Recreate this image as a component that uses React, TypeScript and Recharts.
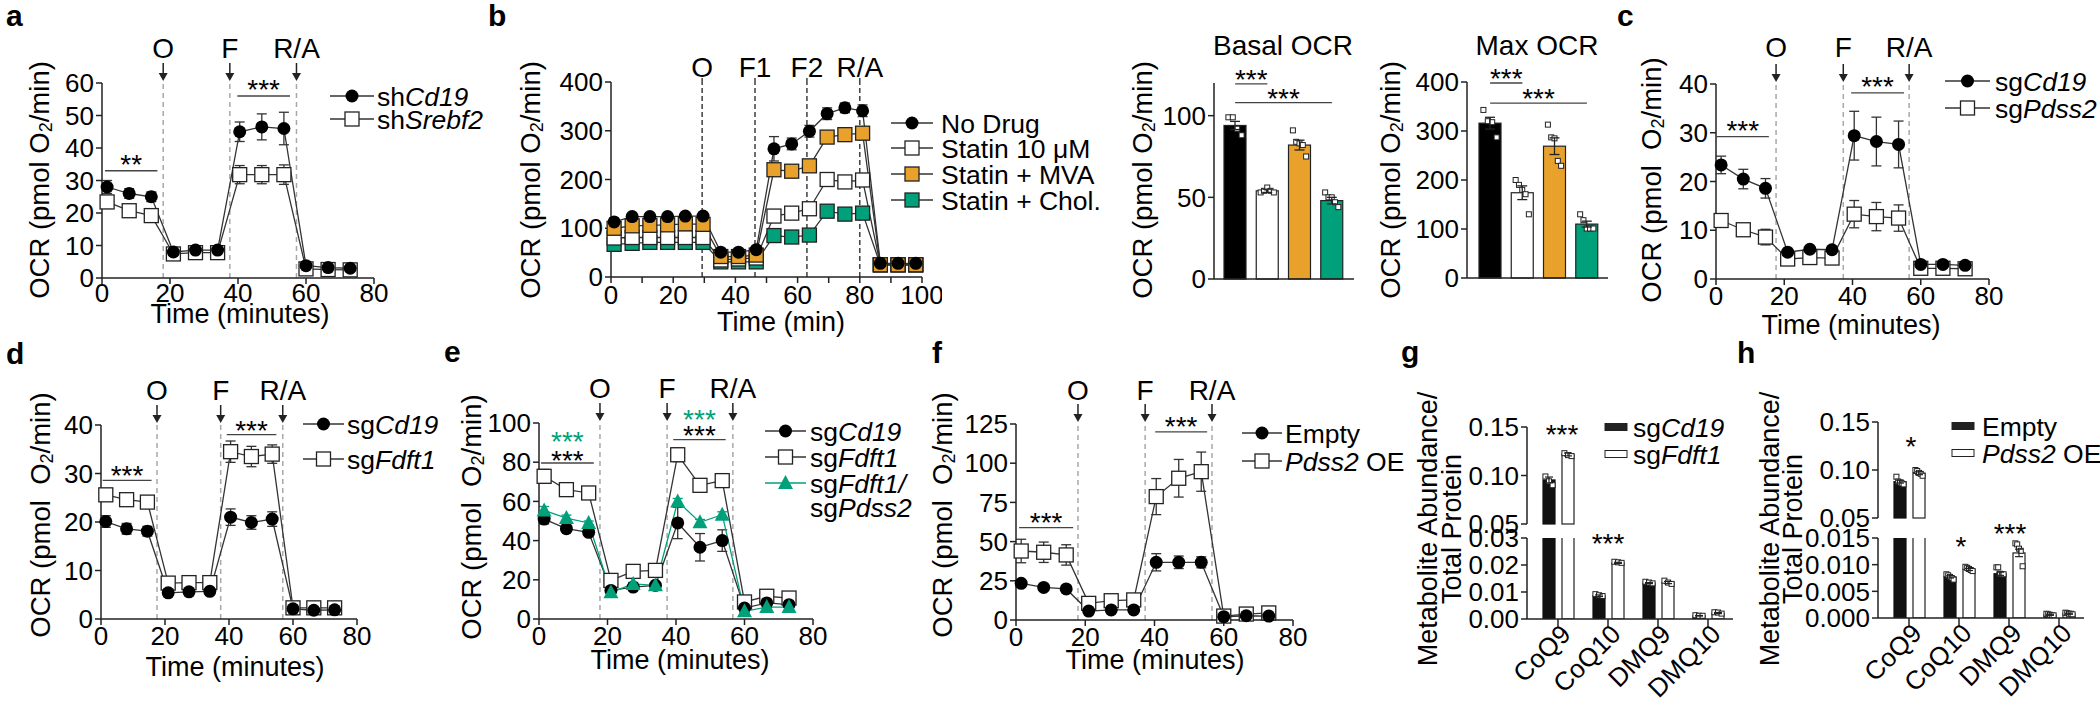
import React from 'react'
import { LineChart, Line, BarChart, Bar, Cell, XAxis, YAxis, ErrorBar, ReferenceLine } from 'recharts'

const FONT = '"Liberation Sans", Arial, Helvetica, sans-serif'
const AXIS = '#222'
const DASH_GRAY = '#a8a8a8'
const ORANGE = '#E8A22B'
const GREEN = '#00A07A'

// Seahorse read times (minutes)
const seaTime = [1.5, 8, 14.5, 21, 27.5, 34, 40.5, 47, 53.5, 60, 66.5, 73]
const bTime = [1, 6.8, 12.5, 18.2, 23.9, 29.6, 35.3, 41, 46.7, 52.4, 58.1, 63.8, 69.5, 75.2, 80.9, 86.6, 92.3, 98]

// a
const aCd19 = [28, 26, 25, 8, 8.6, 8.6, 45, 46.5, 46, 3.8, 3.2, 3]
const aCd19Err = [2, 1.5, 1.5, 1, 0.7, 0.7, 3, 4, 5, 0.5, 0.5, 0.5]
const aSrebf2 = [23.4, 20.7, 19.2, 7.4, 7.8, 7.8, 31.8, 31.8, 31.8, 2.8, 2.6, 2.5]
const aSrebf2Err = [2, 0.7, 0.7, 0.5, 0.5, 0.5, 2.8, 2.8, 3, 0.4, 0.4, 0.4]

// b (time course)
const bNoDrug = [113, 124, 124, 124, 125, 125, 51, 51, 56, 263, 273, 299, 335, 347, 341, 28, 28, 28]
const bNoDrugErr = [8, 5, 4, 4, 4, 4, 3, 3, 4, 25, 12, 12, 12, 10, 12, 3, 3, 3]
const bStatin = [80, 81, 81, 81, 81, 81, 35, 37, 39, 125, 131, 140, 200, 195, 199, 25, 25, 25]
const bStatinErr = [3, 3, 3, 3, 3, 3, 2, 2, 2, 8, 6, 6, 12, 10, 10, 2, 2, 2]
const bMVA = [100, 105, 106, 107, 109, 108, 42, 42, 45, 220, 217, 228, 287, 292, 295, 25, 25, 25]
const bMVAErr = [5, 5, 4, 4, 4, 4, 3, 3, 3, 6, 5, 8, 12, 12, 12, 2, 2, 2]
const bChol = [67, 69, 71, 71, 71, 71, 31, 31, 31, 85, 82, 86, 135, 129, 131, 25, 25, 25]
const bCholErr = [3, 3, 3, 3, 3, 3, 2, 2, 2, 4, 4, 4, 6, 5, 5, 2, 2, 2]

// b (bars)
const drugCats = ['No Drug', 'Statin 10 μM', 'Statin + MVA', 'Statin + Chol.']
const drugColors = ['#000', '#fff', ORANGE, GREEN]
const basalMean = [94, 54, 82, 48]
const basalSem = [2.5, 1, 3, 2]
const basalPts = [[99, 99, 92, 88], [53, 54, 56, 54, 53], [91, 84, 83, 82, 75], [53, 50, 50, 47, 44]]
const maxMean = [316, 174, 269, 110]
const maxSem = [12, 14, 17, 6]
const maxPts = [[343, 320, 318, 287], [200, 190, 180, 171, 130], [313, 287, 285, 239, 229], [130, 118, 101, 101, 101]]

// c
const cCd19 = [23.4, 20.5, 18.6, 5.5, 6.1, 6.0, 29.4, 28.2, 27.6, 3.0, 3.0, 2.8]
const cCd19Err = [1.8, 2, 2, 0.5, 0.5, 0.5, 5, 5, 4.8, 0.4, 0.4, 0.4]
const cPdss2 = [12, 10.1, 8.6, 4.1, 4.4, 4.3, 13.3, 12.8, 12.5, 2.2, 2.2, 2.1]
const cPdss2Err = [1.2, 1.1, 1.6, 0.4, 0.4, 0.4, 2.8, 2.9, 2.7, 0.3, 0.3, 0.3]

// d
const dCd19 = [20.1, 18.6, 18.1, 5.4, 5.6, 5.7, 21.0, 19.9, 20.6, 2.1, 1.8, 1.9]
const dCd19Err = [1.2, 1.1, 1, 0.4, 0.4, 0.4, 1.7, 1.4, 1.5, 0.3, 0.3, 0.3]
const dFdft1 = [25.6, 24.6, 24.1, 7.4, 7.5, 7.5, 34.5, 33.5, 34.0, 2.3, 2.3, 2.3]
const dFdft1Err = [0.6, 0.5, 0.5, 0.4, 0.4, 0.4, 2.2, 2.1, 1.9, 0.3, 0.3, 0.3]

// e
const eCd19 = [51, 46.1, 44.2, 14.6, 16.3, 17.2, 49, 36.6, 40, 5.6, 8.2, 7.3]
const eCd19Err = [2.5, 1.5, 1.5, 1, 1, 1, 8, 7, 5.5, 1, 1, 1]
const eFdft1 = [72.8, 66, 64.3, 19.7, 24.3, 24.8, 83.8, 68.2, 70.6, 8.7, 11.6, 10.7]
const eFdft1Err = [3.5, 3, 3, 1, 1, 1, 3.5, 2.8, 2.5, 1, 1, 1]
const eDouble = [55.4, 51.5, 49, 13.6, 17.9, 17.2, 60, 49.3, 53.2, 3.9, 6.1, 6.1]
const eDoubleErr = [2, 1.5, 1, 0.8, 0.8, 0.8, 1.5, 1.5, 1.5, 0.5, 0.5, 0.5]

// f
const fEmpty = [23.4, 20.8, 19.8, 5.7, 6.4, 6.4, 36.8, 36.8, 36.8, 2.1, 2.7, 2.5]
const fEmptyErr = [1.5, 1.2, 1.2, 0.6, 0.6, 0.6, 5.5, 4, 3.5, 0.5, 0.5, 0.5]
const fOE = [44, 43.2, 41.5, 10.6, 12.3, 12.8, 78.7, 90.4, 94.6, 2.5, 3.8, 4.5]
const fOEErr = [7.5, 6.5, 6.5, 2.5, 2.2, 2.2, 11.5, 12, 12.5, 0.8, 0.8, 0.8]

// g / h metabolites
const metCats = ['CoQ9', 'CoQ10', 'DMQ9', 'DMQ10']
const gCd19 = [0.0954, 0.0086, 0.0133, 0.0012]
const gCd19Err = [0.003, 0.0003, 0.0002, 0.0001]
const gCd19Pts = [[0.099, 0.094, 0.090], [0.0092, 0.0088, 0.0085], [0.0138, 0.0135, 0.0132], [0.0014, 0.0012, 0.0012]]
const gFdft1 = [0.1217, 0.0208, 0.0135, 0.0022]
const gFdft1Err = [0.0015, 0.0002, 0.0004, 0.0002]
const gFdft1Pts = [[0.123, 0.121, 0.12], [0.0212, 0.021, 0.0208], [0.0142, 0.0135, 0.013], [0.0025, 0.0024, 0.002]]
const hEmpty = [0.0879, 0.0077, 0.0083, 0.0006]
const hEmptyErr = [0.0015, 0.0002, 0.0003, 0.0001]
const hEmptyPts = [[0.093, 0.088, 0.087, 0.086, 0.085], [0.0082, 0.008, 0.0077, 0.0075, 0.0072], [0.0095, 0.0095, 0.0083, 0.0082, 0.0082], [0.0008, 0.0007, 0.0006, 0.0005, 0.0005]]
const hOE = [0.0966, 0.0091, 0.0122, 0.0008]
const hOEErr = [0.0015, 0.0002, 0.0007, 0.0001]
const hOEPts = [[0.1, 0.099, 0.097, 0.096, 0.094], [0.0096, 0.0094, 0.0092, 0.009, 0.0088], [0.014, 0.0138, 0.013, 0.0126, 0.0097], [0.001, 0.0009, 0.0008, 0.0008, 0.0007]]

const YW = 70
const XH = 60
function frame(x0: number, y0: number, x1: number, y1: number) {
  const padL = 130, padT = 70, padR = 20, padB = 80
  return {
    style: { position: 'absolute' as const, left: x0 - padL, top: y0 - padT },
    width: x1 - x0 + padL + padR,
    height: y1 - y0 + padT + padB,
    margin: { left: padL - YW, top: padT, right: padR, bottom: padB - XH },
  }
}

function rows(time: number[], cols: Record<string, number[]>) {
  return time.map((t, i) => {
    const r: any = { t }
    for (const k in cols) r[k] = cols[k][i]
    return r
  })
}

const axisLine = { stroke: AXIS, strokeWidth: 1.5 }
const tickFont = { fontSize: 26, fill: '#000', fontFamily: FONT }

function Marker({ kind, fill, cx, cy }: any) {
  if (kind === 'circle') return <circle cx={cx} cy={cy} r={6.5} fill={fill} />
  if (kind === 'tri') return <polygon points={`${cx},${cy - 8} ${cx - 7.5},${cy + 6} ${cx + 7.5},${cy + 6}`} fill={fill} />
  return <rect x={cx - 7} y={cy - 7} width={14} height={14} fill={fill} stroke="#222" strokeWidth={1.3} />
}

const mkDot = (kind: string, fill: string) => (p: any) => {
  if (p.cx == null || p.cy == null) return <g key={p.index} />
  return <Marker key={p.index} kind={kind} fill={fill} cx={p.cx} cy={p.cy} />
}

const ArrowLabel = (props: any) => {
  const { viewBox, txt, arrow = true, lift = 25 } = props
  if (!viewBox) return null
  const x = viewBox.x, y = viewBox.y
  return (
    <g>
      <text x={x} y={y - lift} textAnchor="middle" fontSize={28} fill="#000" fontFamily={FONT}>{txt}</text>
      {arrow ? (
        <g>
          <line x1={x} y1={y - 20} x2={x} y2={y - 8} stroke="#222" strokeWidth={1.5} />
          <polygon points={`${x - 4.5},${y - 10} ${x + 4.5},${y - 10} ${x},${y - 2}`} fill="#222" />
        </g>
      ) : (
        <line x1={x} y1={y - 4} x2={x} y2={y} stroke="#222" strokeWidth={1.3} />
      )}
    </g>
  )
}

const SigText = (props: any) => {
  const { viewBox, txt, dy = 4, txt2, dy2 = -12, color2 = GREEN } = props
  if (!viewBox) return null
  const cx = viewBox.x + (viewBox.width || 0) / 2
  return (
    <g>
      <text x={cx} y={viewBox.y + dy} textAnchor="middle" fontSize={28} fill="#000" fontFamily={FONT}>{txt}</text>
      {txt2 ? <text x={cx} y={viewBox.y + dy2} textAnchor="middle" fontSize={28} fill={color2} fontFamily={FONT}>{txt2}</text> : null}
    </g>
  )
}

type Series = { key: string; err: string; kind: string; fill: string; stroke?: string }
type Sig = { x1: any; x2: any; y: number; txt: string; dy?: number; txt2?: string; dy2?: number }
type Mark = { x: number; txt: string }

function OcrPanel(props: {
  plot: number[]; data: any[]; series: Series[]; xMax: number; xTicks: number[]; yMax: number; yTicks: number[]
  marks: Mark[]; sigs: Sig[]; black?: boolean; xFmt?: (v: number) => string; xGap?: number; lift?: number
}) {
  const { plot, data, series, xMax, xTicks, yMax, yTicks, marks, sigs, black, xFmt, xGap = 2, lift = 25 } = props
  const f = frame(plot[0], plot[1], plot[2], plot[3])
  return (
    <div style={f.style}>
      <LineChart width={f.width} height={f.height} margin={f.margin} data={data}>
        <XAxis type="number" dataKey="t" domain={[0, xMax]} ticks={xTicks} interval={0} height={XH}
          tickSize={6} tickMargin={xGap} tickFormatter={xFmt} axisLine={axisLine} tickLine={axisLine} tick={tickFont} />
        <YAxis type="number" domain={[0, yMax]} ticks={yTicks} interval={0} width={YW}
          tickSize={6} tickMargin={2} axisLine={axisLine} tickLine={axisLine} tick={tickFont} />
        {marks.map((m) => (
          <ReferenceLine key={m.txt} x={m.x} stroke={black ? '#222' : DASH_GRAY} strokeWidth={black ? 1.3 : 1.5}
            strokeDasharray={black ? '5 3' : '5 4'} label={<ArrowLabel txt={m.txt} arrow={!black} lift={lift} />} />
        ))}
        {sigs.map((s, i) => (
          <ReferenceLine key={'s' + i} segment={[{ x: s.x1, y: s.y }, { x: s.x2, y: s.y }]} stroke="#444" strokeWidth={1.3}
            label={<SigText txt={s.txt} dy={s.dy} txt2={s.txt2} dy2={s.dy2} />} />
        ))}
        {series.map((s) => (
          <Line key={s.key} type="linear" dataKey={s.key} stroke={s.stroke ?? '#333'} strokeWidth={1.3}
            dot={mkDot(s.kind, s.fill)} isAnimationActive={false}>
            <ErrorBar dataKey={s.err} width={5} stroke={s.stroke ?? '#333'} strokeWidth={1.3} />
          </Line>
        ))}
      </LineChart>
    </div>
  )
}

// bar with individual replicate points
const DotBar = (p: any) => {
  const { x, y, width, height, fill, payload, vKey, pKey, base = 0, top = Infinity, stroke = '#222' } = p
  if (x == null || height == null || payload == null || payload[vKey] == null) return <g />
  const v = payload[vKey]
  const pts: number[] = payload[pKey] || []
  const ppu = height / (v - base)
  const n = pts.length
  return (
    <g>
      <rect x={x} y={y} width={width} height={height} fill={fill} stroke={stroke} strokeWidth={1.2} />
      {pts.filter((d) => d <= top).map((d, i) => {
        const cx = x + width * (n === 1 ? 0.5 : 0.2 + (0.6 * i) / (n - 1))
        const cy = y + height - (d - base) * ppu
        return <rect key={i} x={cx - 2.5} y={cy - 2.5} width={5} height={5} fill="#fff" stroke="#222" strokeWidth={1} />
      })}
    </g>
  )
}

function OcrBars(props: { plot: number[]; mean: number[]; sem: number[]; pts: number[][]; yMax: number; yTicks: number[]; pad: any; sigs: Sig[] }) {
  const { plot, mean, sem, pts, yMax, yTicks, pad, sigs } = props
  const data = drugCats.map((c, i) => ({ cat: c, v: mean[i], err: sem[i], pts: pts[i] }))
  const f = frame(plot[0], plot[1], plot[2], plot[3])
  return (
    <div style={f.style}>
      <BarChart width={f.width} height={f.height} margin={f.margin} data={data} barSize={22}>
        <XAxis dataKey="cat" height={XH} tick={false} tickLine={false} axisLine={axisLine} padding={pad} />
        <YAxis type="number" domain={[0, yMax]} ticks={yTicks} interval={0} width={YW}
          tickSize={6} tickMargin={2} axisLine={axisLine} tickLine={axisLine} tick={tickFont} />
        <Bar dataKey="v" isAnimationActive={false} shape={(p: any) => <DotBar {...p} vKey="v" pKey="pts" />}>
          {data.map((d, i) => <Cell key={i} fill={drugColors[i]} />)}
          <ErrorBar dataKey="err" width={5} stroke="#222" strokeWidth={1.3} />
        </Bar>
        {sigs.map((s, i) => (
          <ReferenceLine key={'s' + i} segment={[{ x: s.x1, y: s.y }, { x: s.x2, y: s.y }]} stroke="#444" strokeWidth={1.3}
            label={<SigText txt={s.txt} dy={s.dy} />} />
        ))}
      </BarChart>
    </div>
  )
}

const RotTick = (p: any) => (
  <g transform={`translate(${p.x},${p.y})`}>
    <text transform="rotate(-45)" x={6} y={14} textAnchor="end" fontSize={26} fill="#000" fontFamily={FONT}>{p.payload.value}</text>
  </g>
)

function BrokenBars(props: {
  x0: number; x1: number; up: number[]; low: number[]; lowMax: number; lowTicks: number[]; dec: number
  a: number[]; aErr: number[]; aPts: number[][]; b: number[]; bErr: number[]; bPts: number[][]
}) {
  const { x0, x1, up, low, lowMax, lowTicks, dec, a, aErr, aPts, b, bErr, bPts } = props
  const upData = metCats.map((c, i) => ({
    cat: c, a: a[i] > 0.05 ? a[i] : null, b: b[i] > 0.05 ? b[i] : null,
    aErr: a[i] > 0.05 ? aErr[i] : null, bErr: b[i] > 0.05 ? bErr[i] : null, aPts: aPts[i], bPts: bPts[i],
  }))
  const lowData = metCats.map((c, i) => ({ cat: c, a: a[i], b: b[i], aErr: aErr[i], bErr: bErr[i], aPts: aPts[i], bPts: bPts[i] }))
  const fu = frame(x0, up[0], x1, up[1])
  const fl = frame(x0, low[0], x1, low[1])
  return (
    <>
      <div style={fu.style}>
        <BarChart width={fu.width} height={fu.height} margin={fu.margin} data={upData} barSize={12} barGap={7}>
          <XAxis dataKey="cat" height={XH} tick={false} tickLine={false} axisLine={false} padding={{ left: 6, right: 0 }} />
          <YAxis type="number" domain={[0.05, 0.15]} ticks={[0.05, 0.1, 0.15]} interval={0} width={YW}
            tickFormatter={(v: number) => v.toFixed(2)} tickSize={6} tickMargin={2} axisLine={axisLine} tickLine={axisLine} tick={tickFont} />
          <Bar dataKey="a" fill="#111" isAnimationActive={false} shape={(p: any) => <DotBar {...p} vKey="a" pKey="aPts" base={0.05} stroke="#111" />}>
            <ErrorBar dataKey="aErr" width={4} stroke="#222" strokeWidth={1.2} />
          </Bar>
          <Bar dataKey="b" fill="#fff" isAnimationActive={false} shape={(p: any) => <DotBar {...p} vKey="b" pKey="bPts" base={0.05} />}>
            <ErrorBar dataKey="bErr" width={4} stroke="#222" strokeWidth={1.2} />
          </Bar>
        </BarChart>
      </div>
      <div style={fl.style}>
        <BarChart width={fl.width} height={fl.height} margin={fl.margin} data={lowData} barSize={12} barGap={7}>
          <XAxis dataKey="cat" height={XH} interval={0} tick={<RotTick />} tickSize={9} tickMargin={2}
            tickLine={axisLine} axisLine={axisLine} padding={{ left: 6, right: 0 }} />
          <YAxis type="number" domain={[0, lowMax]} allowDataOverflow ticks={lowTicks} interval={0} width={YW}
            tickFormatter={(v: number) => v.toFixed(dec)} tickSize={6} tickMargin={2} axisLine={axisLine} tickLine={axisLine} tick={tickFont} />
          <Bar dataKey="a" fill="#111" isAnimationActive={false} shape={(p: any) => <DotBar {...p} vKey="a" pKey="aPts" top={lowMax} stroke="#111" />}>
            <ErrorBar dataKey="aErr" width={4} stroke="#222" strokeWidth={1.2} />
          </Bar>
          <Bar dataKey="b" fill="#fff" isAnimationActive={false} shape={(p: any) => <DotBar {...p} vKey="b" pKey="bPts" top={lowMax} />}>
            <ErrorBar dataKey="bErr" width={4} stroke="#222" strokeWidth={1.2} />
          </Bar>
        </BarChart>
      </div>
    </>
  )
}

const OcrTitle = ({ x, y, wide }: any) => (
  <text transform={`rotate(-90 ${x} ${y})`} x={x} y={y} textAnchor="middle" dominantBaseline="central" fontSize={27.5}>
    {wide ? 'OCR (pmol\u00a0\u00a0O' : 'OCR (pmol O'}<tspan dy={7} fontSize={18}>2</tspan><tspan dy={-7}>/min)</tspan>
  </text>
)

const MetTitle = ({ x1, x2, y }: any) => (
  <g>
    <text transform={`rotate(-90 ${x1} ${y})`} x={x1} y={y} textAnchor="middle" dominantBaseline="central" fontSize={27}>Metabolite Abundance/</text>
    <text transform={`rotate(-90 ${x2} ${y})`} x={x2} y={y} textAnchor="middle" dominantBaseline="central" fontSize={27}>Total Protein</text>
  </g>
)

const LegendRow = ({ x1, x2, y, kind, fill, line = '#333', tx, children }: any) => (
  <g>
    {kind ? <line x1={x1} y1={y} x2={x2} y2={y} stroke={line} strokeWidth={1.3} /> : null}
    {kind ? <Marker kind={kind} fill={fill} cx={(x1 + x2) / 2} cy={y} /> : null}
    <text x={tx} y={y} dy="0.36em" fontSize={26.5}>{children}</text>
  </g>
)

const Swatch = ({ x, y, dark, tx, children }: any) => (
  <g>
    <rect x={x} y={y - 3.5} width={22} height={7} fill={dark ? '#222' : '#fff'} stroke="#222" strokeWidth={1} />
    <text x={tx} y={y} dy="0.36em" fontSize={26.5}>{children}</text>
  </g>
)

const I = ({ children }: any) => <tspan fontStyle="italic">{children}</tspan>

function Overlay() {
  return (
    <svg width={2100} height={704} style={{ position: 'absolute', left: 0, top: 0, pointerEvents: 'none' }} fontFamily={FONT} fill="#000">
      {/* panel letters */}
      <g fontWeight="bold" fontSize={30}>
        <text x={6} y={26}>a</text>
        <text x={488} y={26}>b</text>
        <text x={1617} y={26}>c</text>
        <text x={6} y={364}>d</text>
        <text x={444} y={362}>e</text>
        <text x={932} y={363}>f</text>
        <text x={1401} y={362}>g</text>
        <text x={1737} y={363}>h</text>
      </g>
      {/* axis titles */}
      <OcrTitle x={39} y={180} />
      <OcrTitle x={530} y={180} />
      <OcrTitle x={1142} y={180} />
      <OcrTitle x={1390} y={180} />
      <OcrTitle x={1651} y={180} wide />
      <OcrTitle x={40} y={515} wide />
      <OcrTitle x={471} y={517} wide />
      <OcrTitle x={942} y={515} wide />
      <MetTitle x1={1428} x2={1452} y={529} />
      <MetTitle x1={1770} x2={1793} y={529} />
      <g fontSize={27} textAnchor="middle">
        <text x={240} y={323}>Time (minutes)</text>
        <text x={781} y={331}>Time (min)</text>
        <text x={1851} y={334}>Time (minutes)</text>
        <text x={235} y={676}>Time (minutes)</text>
        <text x={680} y={669}>Time (minutes)</text>
        <text x={1155} y={669}>Time (minutes)</text>
        <text x={1283} y={55} fontSize={28}>Basal OCR</text>
        <text x={1537} y={55} fontSize={28}>Max OCR</text>
      </g>
      {/* significance for metabolite panels */}
      <g fontSize={28} textAnchor="middle">
        <text x={1562} y={444}>***</text>
        <text x={1608} y={553}>***</text>
        <text x={1911} y={456}>*</text>
        <text x={1961} y={556}>*</text>
        <text x={2010} y={543}>***</text>
      </g>
      {/* legends */}
      <LegendRow x1={330} x2={374} y={96} kind="circle" fill="#000" tx={377}>sh<I>Cd19</I></LegendRow>
      <LegendRow x1={330} x2={374} y={119} kind="square" fill="#fff" tx={377}>sh<I>Srebf2</I></LegendRow>

      <LegendRow x1={891} x2={933} y={123} kind="circle" fill="#000" tx={941}>No Drug</LegendRow>
      <LegendRow x1={891} x2={933} y={148} kind="square" fill="#fff" tx={941}>Statin 10 μM</LegendRow>
      <LegendRow x1={891} x2={933} y={174} kind="square" fill={ORANGE} tx={941}>Statin + MVA</LegendRow>
      <LegendRow x1={891} x2={933} y={200} kind="square" fill={GREEN} tx={941}>Statin + Chol.</LegendRow>

      <LegendRow x1={1945} x2={1990} y={81} kind="circle" fill="#000" tx={1995}>sg<I>Cd19</I></LegendRow>
      <LegendRow x1={1945} x2={1990} y={108} kind="square" fill="#fff" tx={1995}>sg<I>Pdss2</I></LegendRow>

      <LegendRow x1={303} x2={344} y={424} kind="circle" fill="#000" tx={347}>sg<I>Cd19</I></LegendRow>
      <LegendRow x1={303} x2={344} y={459} kind="square" fill="#fff" tx={347}>sg<I>Fdft1</I></LegendRow>

      <LegendRow x1={765} x2={806} y={431} kind="circle" fill="#000" tx={810}>sg<I>Cd19</I></LegendRow>
      <LegendRow x1={765} x2={806} y={457} kind="square" fill="#fff" tx={810}>sg<I>Fdft1</I></LegendRow>
      <LegendRow x1={765} x2={806} y={483} kind="tri" fill={GREEN} line={GREEN} tx={810}>sg<I>Fdft1/</I></LegendRow>
      <LegendRow y={507} tx={810}>sg<I>Pdss2</I></LegendRow>

      <LegendRow x1={1242} x2={1282} y={433} kind="circle" fill="#000" tx={1285}>Empty</LegendRow>
      <LegendRow x1={1242} x2={1282} y={461} kind="square" fill="#fff" tx={1285}><I>Pdss2</I> OE</LegendRow>

      <Swatch x={1605} y={427} dark tx={1633}>sg<I>Cd19</I></Swatch>
      <Swatch x={1605} y={454} tx={1633}>sg<I>Fdft1</I></Swatch>
      <Swatch x={1952} y={426} dark tx={1982}>Empty</Swatch>
      <Swatch x={1952} y={453} tx={1982}><I>Pdss2</I> OE</Swatch>
    </svg>
  )
}

const seaX = [0, 20, 40, 60, 80]

export default function App() {
  const aData = rows(seaTime, { cd19: aCd19, cd19Err: aCd19Err, sr: aSrebf2, srErr: aSrebf2Err })
  const bData = rows(bTime, { nd: bNoDrug, ndErr: bNoDrugErr, st: bStatin, stErr: bStatinErr, mva: bMVA, mvaErr: bMVAErr, ch: bChol, chErr: bCholErr })
  const cData = rows(seaTime, { cd19: cCd19, cd19Err: cCd19Err, pd: cPdss2, pdErr: cPdss2Err })
  const dData = rows(seaTime, { cd19: dCd19, cd19Err: dCd19Err, fd: dFdft1, fdErr: dFdft1Err })
  const eData = rows(seaTime, { cd19: eCd19, cd19Err: eCd19Err, fd: eFdft1, fdErr: eFdft1Err, dbl: eDouble, dblErr: eDoubleErr })
  const fData = rows(seaTime, { em: fEmpty, emErr: fEmptyErr, oe: fOE, oeErr: fOEErr })

  return (
    <div style={{ position: 'absolute', left: 0, top: 0, width: 2100, height: 704, background: '#fff', overflow: 'hidden', fontFamily: FONT }}>
      <OcrPanel plot={[102, 83, 374, 278]} data={aData} xMax={80} xTicks={seaX} yMax={60} yTicks={[0, 10, 20, 30, 40, 50, 60]} xGap={0}
        series={[{ key: 'sr', err: 'srErr', kind: 'square', fill: '#fff' }, { key: 'cd19', err: 'cd19Err', kind: 'circle', fill: '#000' }]}
        marks={[{ x: 18, txt: 'O' }, { x: 37.6, txt: 'F' }, { x: 57.2, txt: 'R/A' }]}
        sigs={[{ x1: 0.9, x2: 16.3, y: 33, txt: '**', dy: 3 }, { x1: 39.8, x2: 55.3, y: 56, txt: '***', dy: 3 }]} />

      <OcrPanel plot={[611, 82, 922, 277]} data={bData} xMax={100} xTicks={[0, 10, 20, 30, 40, 50, 60, 70, 80, 90, 100]}
        xFmt={(v) => (v % 20 === 0 ? String(v) : '')} yMax={400} yTicks={[0, 100, 200, 300, 400]} black lift={5} xGap={3}
        series={[
          { key: 'ch', err: 'chErr', kind: 'square', fill: GREEN },
          { key: 'st', err: 'stErr', kind: 'square', fill: '#fff' },
          { key: 'mva', err: 'mvaErr', kind: 'square', fill: ORANGE },
          { key: 'nd', err: 'ndErr', kind: 'circle', fill: '#000' },
        ]}
        marks={[{ x: 29.3, txt: 'O' }, { x: 46.3, txt: 'F1' }, { x: 63, txt: 'F2' }, { x: 80, txt: 'R/A' }]}
        sigs={[]} />

      <OcrBars plot={[1214, 83, 1354, 279]} mean={basalMean} sem={basalSem} pts={basalPts} yMax={120} yTicks={[0, 50, 100]}
        pad={{ left: 5, right: 6 }}
        sigs={[{ x1: drugCats[0], x2: drugCats[1], y: 119.5, txt: '***', dy: 5 }, { x1: drugCats[0], x2: drugCats[3], y: 108, txt: '***', dy: 5 }]} />
      <OcrBars plot={[1467, 82, 1608, 278]} mean={maxMean} sem={maxSem} pts={maxPts} yMax={400} yTicks={[0, 100, 200, 300, 400]}
        pad={{ left: 7, right: 5 }}
        sigs={[{ x1: drugCats[0], x2: drugCats[1], y: 398, txt: '***', dy: 5 }, { x1: drugCats[0], x2: drugCats[3], y: 357, txt: '***', dy: 5 }]} />

      <OcrPanel plot={[1716, 84, 1989, 279]} data={cData} xMax={80} xTicks={seaX} yMax={40} yTicks={[0, 10, 20, 30, 40]} lift={27}
        series={[{ key: 'pd', err: 'pdErr', kind: 'square', fill: '#fff' }, { key: 'cd19', err: 'cd19Err', kind: 'circle', fill: '#000' }]}
        marks={[{ x: 17.6, txt: 'O' }, { x: 37.3, txt: 'F' }, { x: 56.6, txt: 'R/A' }]}
        sigs={[{ x1: 0.2, x2: 15.5, y: 29.2, txt: '***', dy: 3 }, { x1: 39.6, x2: 55.1, y: 38.2, txt: '***', dy: 3 }]} />

      <OcrPanel plot={[101, 425, 357, 619]} data={dData} xMax={80} xTicks={seaX} yMax={40} yTicks={[0, 10, 20, 30, 40]}
        series={[{ key: 'fd', err: 'fdErr', kind: 'square', fill: '#fff' }, { key: 'cd19', err: 'cd19Err', kind: 'circle', fill: '#000' }]}
        marks={[{ x: 17.5, txt: 'O' }, { x: 37.4, txt: 'F' }, { x: 56.8, txt: 'R/A' }]}
        sigs={[{ x1: 0.5, x2: 15.8, y: 28.6, txt: '***', dy: 5 }, { x1: 39.3, x2: 54.8, y: 38, txt: '***', dy: 5 }]} />

      <OcrPanel plot={[539, 423, 813, 619]} data={eData} xMax={80} xTicks={seaX} yMax={100} yTicks={[0, 20, 40, 60, 80, 100]}
        series={[
          { key: 'fd', err: 'fdErr', kind: 'square', fill: '#fff' },
          { key: 'cd19', err: 'cd19Err', kind: 'circle', fill: '#000' },
          { key: 'dbl', err: 'dblErr', kind: 'tri', fill: GREEN, stroke: GREEN },
        ]}
        marks={[{ x: 17.8, txt: 'O' }, { x: 37.4, txt: 'F' }, { x: 56.6, txt: 'R/A' }]}
        sigs={[
          { x1: 0.6, x2: 16, y: 79.6, txt: '***', dy: 7, txt2: '***', dy2: -12 },
          { x1: 39.2, x2: 54.5, y: 91.5, txt: '***', dy: 5, txt2: '***', dy2: -11 },
        ]} />

      <OcrPanel plot={[1016, 424, 1293, 620]} data={fData} xMax={80} xTicks={seaX} yMax={125} yTicks={[0, 25, 50, 75, 100, 125]} lift={24}
        series={[{ key: 'oe', err: 'oeErr', kind: 'square', fill: '#fff' }, { key: 'em', err: 'emErr', kind: 'circle', fill: '#000' }]}
        marks={[{ x: 17.9, txt: 'O' }, { x: 37.3, txt: 'F' }, { x: 56.6, txt: 'R/A' }]}
        sigs={[{ x1: 0.9, x2: 16.5, y: 58.9, txt: '***', dy: 4 }, { x1: 40.2, x2: 55.2, y: 120, txt: '***', dy: 4 }]} />

      <BrokenBars x0={1527} x1={1733} up={[427, 524]} low={[538, 619]} lowMax={0.03} lowTicks={[0, 0.01, 0.02, 0.03]} dec={2}
        a={gCd19} aErr={gCd19Err} aPts={gCd19Pts} b={gFdft1} bErr={gFdft1Err} bPts={gFdft1Pts} />
      <BrokenBars x0={1878} x1={2084} up={[422, 518]} low={[538, 618]} lowMax={0.015} lowTicks={[0, 0.005, 0.01, 0.015]} dec={3}
        a={hEmpty} aErr={hEmptyErr} aPts={hEmptyPts} b={hOE} bErr={hOEErr} bPts={hOEPts} />

      <Overlay />
    </div>
  )
}
